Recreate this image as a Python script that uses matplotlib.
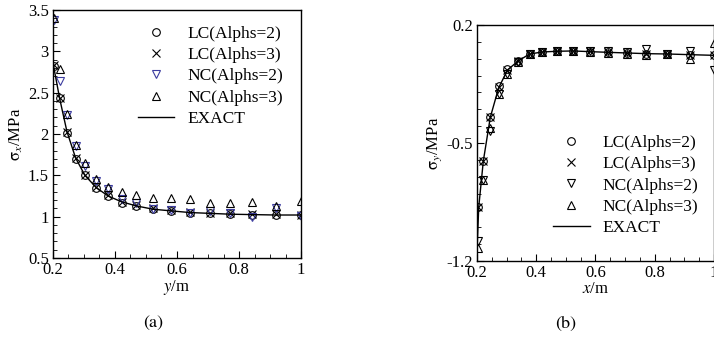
import numpy as np
import matplotlib.pyplot as plt

plt.rcParams['font.family'] = 'Liberation Serif'
plt.rcParams['mathtext.fontset'] = 'stix'
plt.rcParams['font.size'] = 12

# node positions (same for both panels)
r = [0.202, 0.2215, 0.245, 0.273, 0.303, 0.34, 0.378, 0.421, 0.469,
     0.523, 0.581, 0.641, 0.706, 0.771, 0.843, 0.919, 1.0]

# (a) sigma_x along y
sx_exact_r = [0.2, 0.21, 0.2215, 0.245, 0.273, 0.303, 0.34, 0.378, 0.421, 0.469,
              0.523, 0.581, 0.641, 0.706, 0.771, 0.843, 0.919, 1.0]
sx_exact = [2.86, 2.66, 2.43, 2.03, 1.71, 1.50, 1.35, 1.25, 1.18, 1.13,
            1.09, 1.07, 1.05, 1.04, 1.03, 1.025, 1.02, 1.02]
sx_lc2 = [2.82, 2.43, 2.01, 1.70, 1.50, 1.35, 1.25, 1.17, 1.13, 1.09,
          1.07, 1.05, 1.04, 1.03, 1.02, 1.02, 1.02]
sx_lc3 = [2.83, 2.44, 2.02, 1.71, 1.51, 1.36, 1.26, 1.18, 1.14, 1.10,
          1.08, 1.06, 1.05, 1.04, 1.03, 1.03, 1.02]
sx_nc2 = [3.38, 2.64, 2.23, 1.85, 1.61, 1.43, 1.34, 1.21, 1.17, 1.09,
          1.08, 1.04, 1.07, 1.05, 1.00, 1.10, 1.01]
sx_nc3 = [3.40, 2.79, 2.24, 1.87, 1.65, 1.46, 1.36, 1.30, 1.26, 1.23,
          1.23, 1.21, 1.17, 1.16, 1.18, 1.13, 1.19]

# (b) sigma_y along x
sy_exact_r = [0.2, 0.206, 0.2215, 0.245, 0.273, 0.303, 0.34, 0.378, 0.421, 0.469,
              0.523, 0.581, 0.641, 0.706, 0.771, 0.843, 0.919, 1.0]
sy_exact = [-1.15, -0.88, -0.607, -0.348, -0.174, -0.067, -0.012, 0.028, 0.040, 0.044,
            0.046, 0.042, 0.038, 0.034, 0.030, 0.028, 0.024, 0.020]
sy_lc2 = [-0.88, -0.607, -0.348, -0.160, -0.060, -0.012, 0.028, 0.040, 0.044,
          0.046, 0.042, 0.040, 0.034, 0.030, 0.028, 0.024, 0.020]
sy_lc3 = [-0.88, -0.607, -0.348, -0.170, -0.066, -0.014, 0.027, 0.041, 0.044,
          0.046, 0.043, 0.037, 0.033, 0.029, 0.028, 0.023, 0.020]
sy_nc2 = [-1.08, -0.72, -0.43, -0.21, -0.09, -0.02, 0.026, 0.040, 0.046,
          0.048, 0.046, 0.046, 0.040, 0.060, 0.030, 0.048, -0.067]
sy_nc3 = [-1.12, -0.72, -0.41, -0.21, -0.09, -0.02, 0.026, 0.040, 0.044,
          0.046, 0.042, 0.034, 0.030, 0.020, 0.030, 0.000, 0.093]

fig = plt.figure(figsize=(7.14, 3.41), dpi=100)
ax1 = fig.add_axes([0.0742, 0.2434, 0.3474, 0.7273])
ax2 = fig.add_axes([0.668, 0.2346, 0.332, 0.6921])

ms = 5.5
leg_kw = dict(frameon=False, handlelength=2.1, handletextpad=0.75,
              labelspacing=0.3, fontsize=12.5)
for ax, ex_r, ex, lc2, lc3, nc2, nc3, nc2c in [
        (ax1, sx_exact_r, sx_exact, sx_lc2, sx_lc3, sx_nc2, sx_nc3, '#3c3ca0'),
        (ax2, sy_exact_r, sy_exact, sy_lc2, sy_lc3, sy_nc2, sy_nc3, 'black')]:
    ax.plot(r, lc2, 'o', ms=ms, mfc='none', mec='black', mew=0.8, label='LC(Alphs=2)')
    ax.plot(r, lc3, 'x', ms=ms, color='black', mew=0.8, label='LC(Alphs=3)')
    ax.plot(r, nc2, 'v', ms=ms, mfc='none', mec=nc2c, mew=0.8, label='NC(Alphs=2)')
    ax.plot(r, nc3, '^', ms=ms, mfc='none', mec='black', mew=0.8, label='NC(Alphs=3)')
    ax.plot(ex_r, ex, '-', color='black', lw=1.0, label='EXACT')
    ax.set_xlim(0.2, 1.0)
    ax.set_xticks([0.2, 0.4, 0.6, 0.8, 1.0])
    ax.set_xticklabels(['0.2', '0.4', '0.6', '0.8', '1'])
    ax.set_xticks(np.arange(0.2, 1.001, 0.05), minor=True)
    ax.tick_params(which='both', direction='in', top=False, right=False, pad=3)
    ax.tick_params(which='major', length=5)
    ax.tick_params(which='minor', length=3)
    for s in ax.spines.values():
        s.set_linewidth(1.0)

ax1.set_ylim(0.5, 3.5)
ax1.set_yticks([0.5, 1, 1.5, 2, 2.5, 3, 3.5])
ax1.set_yticklabels(['0.5', '1', '1.5', '2', '2.5', '3', '3.5'])
ax1.set_yticks(np.arange(0.5, 3.501, 0.1), minor=True)
ax1.set_xlabel(r'$y$/m', labelpad=0)
ax1.set_ylabel(r'$\mathrm{\sigma}_x$/MPa', labelpad=2)
ax1.legend(loc='upper right', bbox_to_anchor=(0.99, 1.0), **leg_kw)

ax2.set_ylim(-1.2, 0.2)
ax2.set_yticks([-1.2, -0.5, 0.2])
ax2.set_yticklabels(['-1.2', '-0.5', '0.2'])
ax2.set_yticks(np.arange(-1.2, 0.201, 0.1), minor=True)
ax2.set_xlabel(r'$x$/m', labelpad=0)
ax2.set_ylabel(r'$\mathrm{\sigma}_y$/MPa', labelpad=2)
ax2.legend(loc='center right', bbox_to_anchor=(1.0, 0.32), **leg_kw)

fig.text(154 / 714, 1 - 323 / 341, r'$\mathrm{(a)}$', ha='center', va='center', fontsize=13)
fig.text(566 / 714, 1 - 323 / 341, r'$\mathrm{(b)}$', ha='center', va='center', fontsize=13)

fig.savefig('out.png', dpi=100)
